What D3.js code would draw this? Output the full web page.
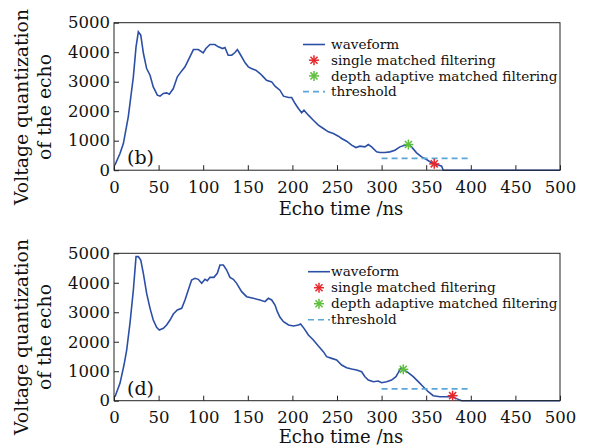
<!DOCTYPE html>
<html><head><meta charset="utf-8">
<script src="https://cdn.jsdelivr.net/npm/d3@7"></script>
<style>body{margin:0;background:#fff}svg{display:block}text{font-family:"DejaVu Serif",serif;fill:#111}</style>
</head><body><svg id="c" width="591" height="448"></svg>
<script>
// ---- data ----
const xTicks = [0,50,100,150,200,250,300,350,400,450,500];
const yTicks = [0,1000,2000,3000,4000,5000];
const legendLabels = ["waveform","single matched filtering","depth adaptive matched filtering","threshold"];
const panelLabels = ["(b)","(d)"];

const timeB = [1,6.7,10.5,16,21.7,24.7,27.3,30,33,36.6,40.4,44,48.6,51.6,55.3,59,62,66.5,71,75.9,79.6,83.3,89,94.5,100,103,107.6,113,117,121.8,124.4,128,132,135.6,138.3,141,147,150.6,154,159,163.7,167.4,171,176.8,180.5,186,190,195.7,199.2,203,206.7,210.4,213,217.9,223.5,229.1,234.7,240.3,245.9,251.5,255.2,260.8,266.4,271.2,275.7,281.3,285.1,288.8,294.4,298.1,303.7,309.3,314.9,320.5,326.1,329.8,333.6,339.2,344.8,350.4,356,359.7,364.6,367.3,369.1,400,450,500];
const valueB = [170,565,904,1808,3164,4181,4690,4577,3955,3446,3220,2825,2543,2509,2600,2621,2576,2768,3164,3367,3503,3729,4090,4090,3978,4124,4260,4260,4181,4124,4158,3898,3898,3989,4090,3955,3639,3503,3446,3390,3277,3164,3051,2994,2848,2712,2509,2463,2463,2260,2090,1944,2034,1865,1695,1526,1413,1300,1243,1153,1074,983,848,768,814,791,870,791,622,599,599,622,678,791,848,870,791,588,452,362,249,203,170,136,0,0,0,0];

const timeD = [1.1,6.7,11.2,14.2,17.9,21.7,24.7,27.3,30,32.9,36.6,40.4,44,47.8,50.8,55.3,59,62.8,66.5,71,75.9,79.6,83.3,87,90.8,94.5,98.3,102,104.6,107.6,112,115.8,118.8,122.6,126.3,130,133.8,137.5,143.1,148.7,156.2,163.7,169.3,173,176.8,180.5,183.1,186.1,190,195.7,201.2,206.7,209.2,213,217.9,223.5,229.1,234.7,238.4,244,249.6,255.2,260.8,266.4,272,277.6,281.3,285.1,290.7,296.3,300,305.6,311.2,316.1,318.7,321.3,324.3,329.8,335.5,341.1,346.7,352.3,357.9,365.4,371,376.6,380.4,386,389.7,400,450,500];
const valueD = [136,588,1210,1719,2624,3755,4886,4886,4773,4320,3642,3133,2737,2488,2398,2454,2567,2737,2941,3076,3133,3416,3755,4094,4151,4117,3981,4117,4072,4185,4185,4320,4603,4603,4433,4185,4117,3981,3698,3529,3472,3416,3359,3472,3416,3246,3020,2830,2680,2567,2533,2567,2601,2454,2228,2058,1855,1663,1493,1436,1380,1210,1120,1074,1040,984,814,701,645,667,611,645,701,814,950,1097,1063,950,814,645,475,305,170,136,136,136,113,45,0,0,0,0];

const singleB = [359, 215], adaptiveB = [330, 870];
const singleD = [379.6, 170], adaptiveD = [324.3, 1063];
const thresholdTime = [300, 400], thresholdValue = 400;

// ---- styles ----
const C = {wave:"#2c4fa6", red:"#e8262b", green:"#5cbf3a", thr:"#5ba6d8", frame:"#222"};
const svg = d3.select("#c");

function star(g, x, y, color, r) {
  const s = g.append("g").attr("transform", `translate(${x},${y})`);
  for (let a = 0; a < 180; a += 45) {
    const rad = a * Math.PI / 180;
    s.append("line").attr("x1", -r*Math.cos(rad)).attr("y1", -r*Math.sin(rad))
      .attr("x2", r*Math.cos(rad)).attr("y2", r*Math.sin(rad))
      .attr("stroke", color).attr("stroke-width", 1.5);
  }
}

function panel(cfg) {
  const x = d3.scaleLinear().domain([0, 500]).range([114, 560]);
  const y = d3.scaleLinear().domain([0, 5000]).range([cfg.bottom, cfg.top]);
  const g = svg.append("g");

  // axes
  const xa = g.append("g").attr("transform", `translate(0,${cfg.bottom})`)
    .call(d3.axisBottom(x).tickValues(xTicks).tickSize(-5).tickPadding(11).tickFormat(d3.format("d")));
  const ya = g.append("g").attr("transform", `translate(114,0)`)
    .call(d3.axisLeft(y).tickValues(yTicks).tickSize(-5).tickPadding(4).tickFormat(d3.format("d")));
  [xa, ya].forEach(a => {
    a.select(".domain").remove();
    a.selectAll(".tick line").attr("stroke", C.frame);
    a.selectAll("text").style("font-size", "16.5px").attr("fill", "#111");
  });

  // waveform
  const pts = cfg.t.map((t, i) => [t, cfg.v[i]]);
  g.append("path").datum(pts)
    .attr("d", d3.line().x(d => x(d[0])).y(d => y(d[1])))
    .attr("fill", "none").attr("stroke", C.wave).attr("stroke-width", 1.6);

  // threshold
  g.append("line").attr("x1", x(thresholdTime[0])).attr("x2", x(thresholdTime[1]))
    .attr("y1", y(thresholdValue)).attr("y2", y(thresholdValue))
    .attr("stroke", C.thr).attr("stroke-width", 1.6).attr("stroke-dasharray", "6,4");

  // frame
  g.append("rect").attr("x", 114).attr("y", cfg.top).attr("width", 446).attr("height", cfg.bottom - cfg.top)
    .attr("fill", "none").attr("stroke", C.frame).attr("stroke-width", 1);

  // markers
  star(g, x(cfg.adaptive[0]), y(cfg.adaptive[1]), C.green, 5);
  star(g, x(cfg.single[0]), y(cfg.single[1]), C.red, 5);

  // panel label
  g.append("text").attr("x", 127).attr("y", cfg.bottom - 6).style("font-size", "19px").text(cfg.label);

  // legend
  const lg = g.append("g");
  const ly = cfg.legendY;
  legendLabels.forEach((lab, i) => {
    const yy = ly + cfg.legendStep * i;
    lg.append("text").attr("x", 331).attr("y", yy).attr("dy", "0.35em").style("font-size", "13.6px").text(lab);
  });
  lg.append("line").attr("x1", cfg.legX0).attr("x2", cfg.legX0 + 22).attr("y1", ly).attr("y2", ly)
    .attr("stroke", C.wave).attr("stroke-width", 1.6);
  star(lg, cfg.legX0 + 11, ly + cfg.legendStep, C.red, 5);
  star(lg, cfg.legX0 + 11, ly + cfg.legendStep * 2, C.green, 5);
  lg.append("line").attr("x1", cfg.legX0).attr("x2", cfg.legX0 + 22)
    .attr("y1", ly + cfg.legendStep * 3).attr("y2", ly + cfg.legendStep * 3)
    .attr("stroke", C.thr).attr("stroke-width", 1.6).attr("stroke-dasharray", "6,4");

  // axis labels
  g.append("text").attr("x", 341).attr("y", cfg.bottom + cfg.xLabelOff).attr("text-anchor", "middle")
    .style("font-size", "18px").text("Echo time /ns");
  const yl = g.append("text").attr("transform", `translate(0,${cfg.yLabelC}) rotate(-90)`)
    .attr("text-anchor", "middle").style("font-size", "18.8px");
  yl.append("tspan").attr("x", 0).attr("y", 28).text("Voltage quantization");
  yl.append("tspan").attr("x", 0).attr("y", 51).text("of the echo");
}

panel({top: 22.7, bottom: 170.2, t: timeB, v: valueB, single: singleB, adaptive: adaptiveB,
       label: panelLabels[0], legendY: 44.5, legendStep: 15.7, legX0: 303, yLabelC: 107, xLabelOff: 45});
panel({top: 253.3, bottom: 400.7, t: timeD, v: valueD, single: singleD, adaptive: adaptiveD,
       label: panelLabels[1], legendY: 271.7, legendStep: 16, legX0: 308, yLabelC: 337, xLabelOff: 42});
</script></body></html>
